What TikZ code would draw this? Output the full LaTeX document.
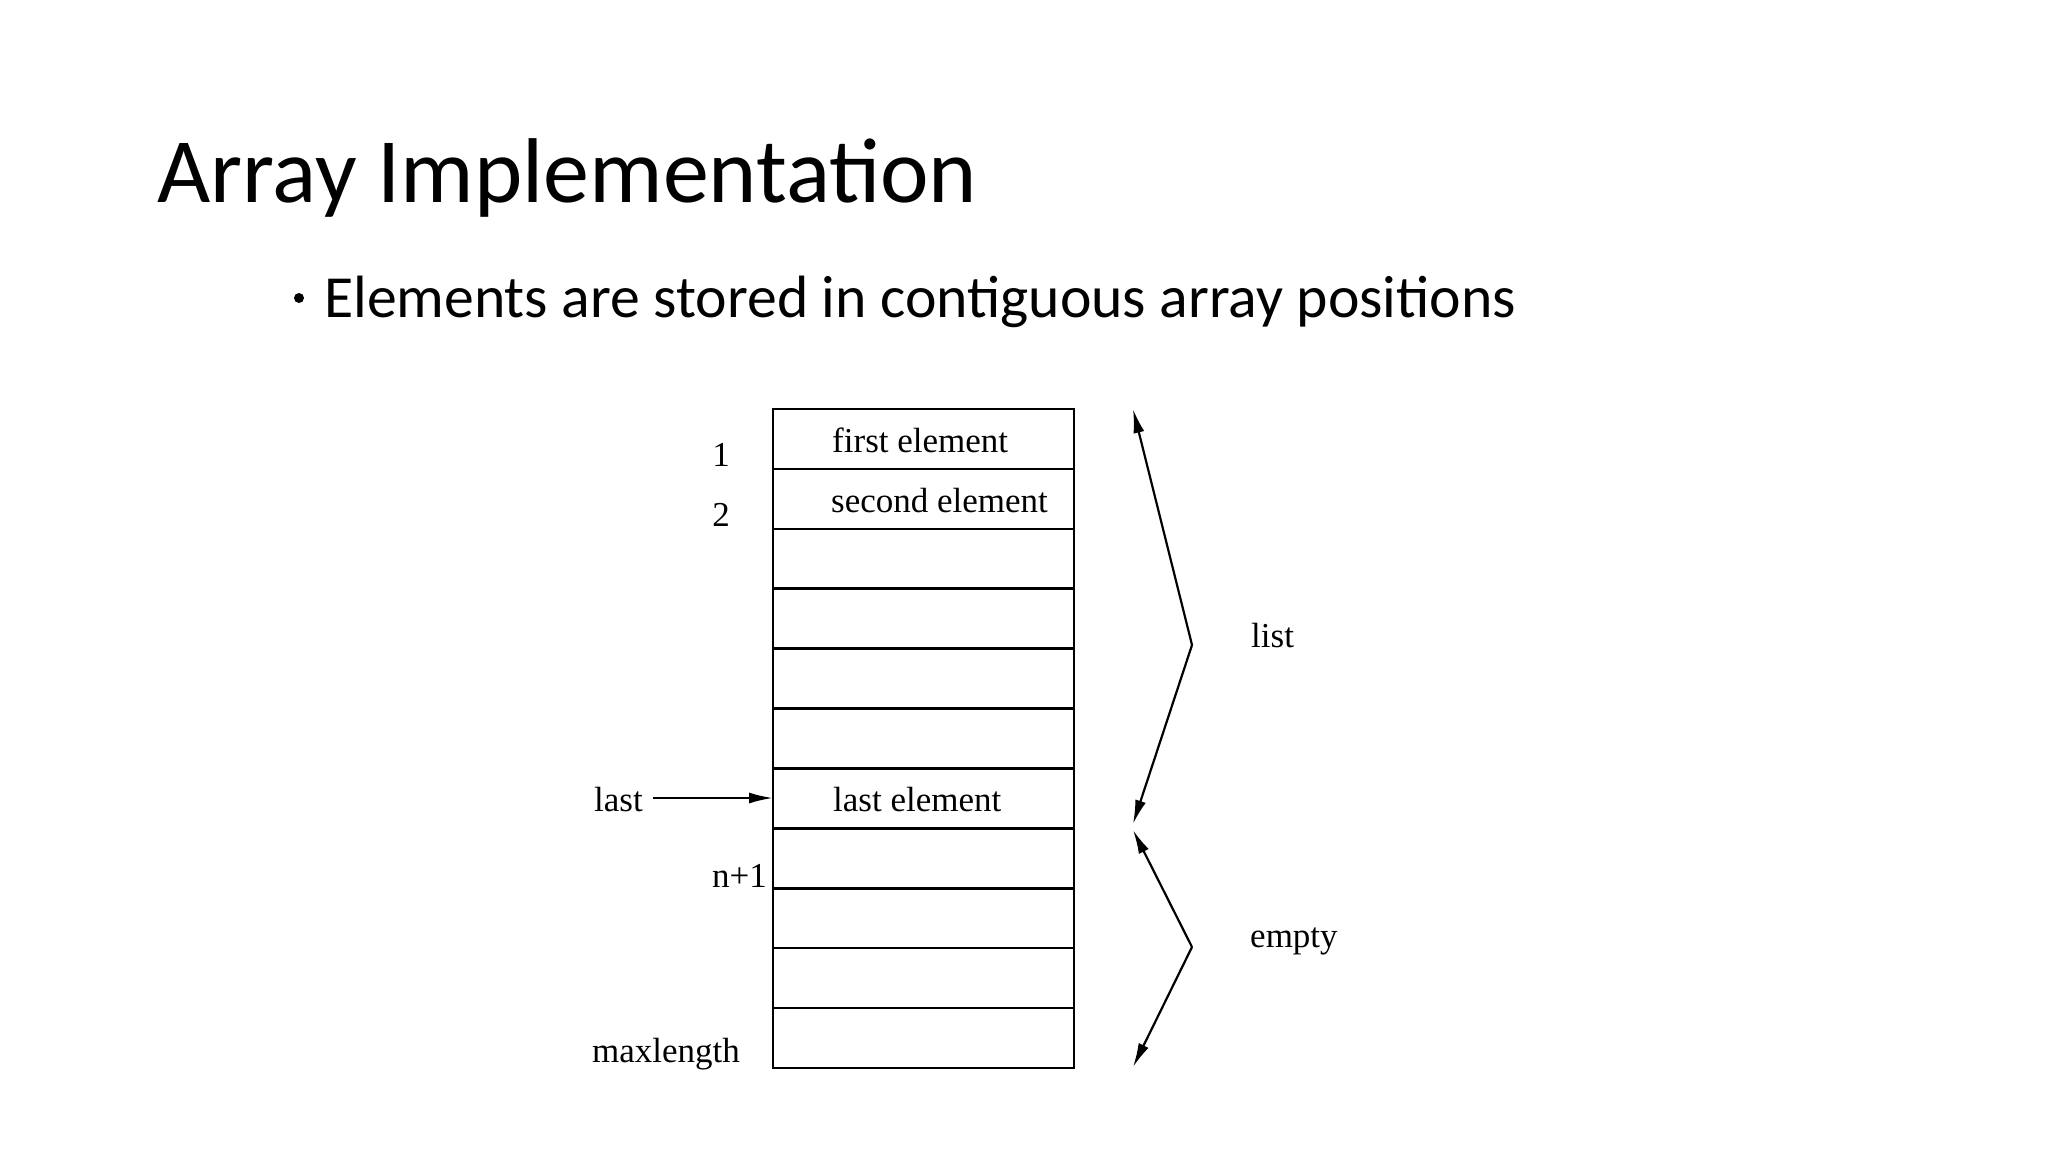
\documentclass[tikz,border=0pt]{standalone}
\usepackage{fontspec}
\setmainfont{Liberation Serif}
\newfontfamily\calib{Carlito}
\usetikzlibrary{arrows.meta}
\tikzset{
  cell/.style={draw, line width=2.6pt, minimum width=301pt, minimum height=59.9pt, inner sep=0pt, outer sep=0pt},
  lbl/.style={inner sep=0pt, anchor=base west, font=\fontsize{35}{40}\selectfont},
  arr/.style={line width=2.2pt, -{Latex[length=24pt,width=11pt]}},
}
\begin{document}
\begin{tikzpicture}[x=1pt,y=-1pt]
\useasboundingbox (0,0) rectangle (2048,1152);
\fill[white] (0,0) rectangle (2048,1152);
% title and bullet
\node[inner sep=0pt, anchor=base west, font=\calib\fontsize{92}{100}\selectfont] (title) at (157,202) {Array Implementation};
\node[inner sep=0pt, anchor=base west, font=\calib\fontsize{59.7}{70}\selectfont] (bullet) at (324,317) {Elements are stored in contiguous array positions};
\node[fill=black, circle, inner sep=0pt, minimum size=10pt] (dot) at (299,298) {};
% array cells
\foreach \i in {1,...,11} {
  \node[cell] (c\i) at (923.5,{409+59.9*(\i-0.5)}) {};
}
% cell texts
\node[lbl] (t1) at (832,452) {first element};
\node[lbl] (t2) at (831,512) {second element};
\node[lbl] (t7) at (833,811) {last element};
% index labels
\node[lbl, anchor=base] (i1) at (721,466) {1};
\node[lbl, anchor=base] (i2) at (721,526) {2};
\node[lbl] (lastlbl) at (594,811) {last};
\node[lbl, anchor=base east] (np1) at (767,887) {n+1};
\node[lbl] (maxl) at (592,1062) {maxlength};
% last pointer
\coordinate (lastfrom) at (653,798);
\draw[arr] (lastfrom) -- (c7.west |- lastfrom);
% right side brackets
\coordinate (lt) at (1133,409);
\coordinate (lm) at (1192,645);
\coordinate (lb) at (1133,824);
\coordinate (et) at (1133,830);
\coordinate (em) at (1192,947);
\coordinate (eb) at (1133,1067);
\draw[arr] (lm) -- (lt);
\draw[arr] (lm) -- (lb);
\draw[arr] (em) -- (et);
\draw[arr] (em) -- (eb);
\node[lbl] (listlbl) at (1251,647) {list};
\node[lbl] (emptylbl) at (1250,947) {empty};
\end{tikzpicture}
\end{document}
